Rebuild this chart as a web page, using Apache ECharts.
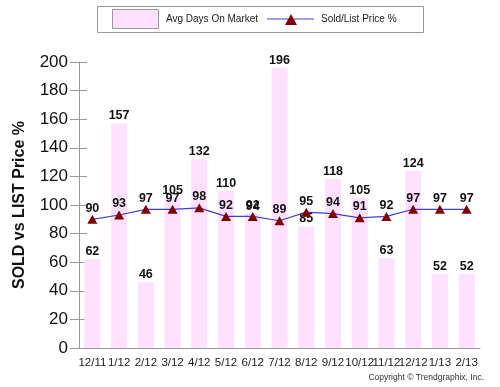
<!DOCTYPE html>
<html><head><meta charset="utf-8">
<script src="https://cdn.jsdelivr.net/npm/echarts@6/dist/echarts.min.js"></script>
<style>html,body{margin:0;padding:0;background:#fff}#c{width:500px;height:387px}</style>
</head><body><div id="c"></div>
<script>
const categories = ['12/11','1/12','2/12','3/12','4/12','5/12','6/12','7/12','8/12','9/12','10/12','11/12','12/12','1/13','2/13'];
const avgDays = [62,157,46,105,132,110,94,196,85,118,105,63,124,52,52];
const soldList = [90,93,97,97,98,92,92,89,95,94,91,92,97,97,97];
const yTicks = [0,20,40,60,80,100,120,140,160,180,200];

const chart = echarts.init(document.getElementById('c'));
const font = 'Liberation Sans, Arial, sans-serif';
const barColor = '#FFE0FF', lineColor = '#4040C4', markColor = '#800000';
chart.setOption({
  animation:false,
  textStyle:{fontFamily:font},
  legend:{show:false},
  grid:{left:79, right:20, top:62, bottom:39},
  xAxis:[{
    type:'category', data:categories, boundaryGap:true,
    axisLine:{lineStyle:{color:'#999'}},
    axisTick:{length:8, lineStyle:{color:'#999'}},
    axisLabel:{fontSize:11.5,color:'#222',margin:9,interval:0,fontFamily:font}
  },{
    type:'category', data:categories, position:'bottom', boundaryGap:true,
    axisLine:{show:false}, axisTick:{inside:true,length:8,lineStyle:{color:'#999'}}, axisLabel:{show:false}
  }],
  yAxis:[{
    type:'value', min:0, max:200, interval:20,
    name:'SOLD vs LIST Price %', nameLocation:'middle', nameGap:51,
    nameTextStyle:{fontSize:16,fontWeight:'bold',color:'#111',fontFamily:font},
    axisLine:{show:true,lineStyle:{color:'#999'}},
    axisTick:{show:true,length:9,lineStyle:{color:'#999'}},
    splitLine:{show:false},
    axisLabel:{fontSize:17,color:'#111',margin:11,fontFamily:font,
      formatter:v=>yTicks.includes(v)?String(v):''}
  },{
    type:'value', min:0, max:200, interval:20, position:'left',
    axisLine:{show:false}, axisTick:{show:true,inside:true,length:8,lineStyle:{color:'#999'}},
    axisLabel:{show:false}, splitLine:{show:false}
  }],
  series:[{
    name:'Avg Days On Market', type:'bar', data:avgDays, barWidth:16,
    itemStyle:{color:barColor},
    label:{show:true,position:'top',distance:1,fontSize:12.5,fontWeight:'bold',color:'#111',fontFamily:font}
  },{
    name:'Sold/List Price %', type:'line', data:soldList,
    lineStyle:{color:lineColor,width:1.2},
    itemStyle:{color:markColor},
    symbol:'triangle', symbolSize:[10,9],
    label:{show:true,position:'top',distance:0,fontSize:12.5,fontWeight:'bold',color:'#111',fontFamily:font}
  }],
  graphic:[
    {type:'rect',shape:{x:97.5,y:6.5,width:326,height:26},style:{fill:'#fff',stroke:'#999',lineWidth:1}},
    {type:'rect',shape:{x:112.5,y:9.5,width:46,height:19},style:{fill:barColor,stroke:'#999',lineWidth:1}},
    {type:'text',x:166,y:19,style:{text:'Avg Days On Market',fontSize:10,fill:'#222',fontFamily:font,verticalAlign:'middle'}},
    {type:'line',shape:{x1:267,y1:19,x2:314,y2:19},style:{stroke:lineColor,lineWidth:1.2}},
    {type:'polygon',shape:{points:[[291,14],[297,25],[285,25]]},style:{fill:markColor}},
    {type:'text',x:321,y:19,style:{text:'Sold/List Price %',fontSize:10,fill:'#222',fontFamily:font,verticalAlign:'middle'}},
    {type:'text',right:16,bottom:5,style:{text:'Copyright © Trendgraphix, Inc.',fontSize:8.5,fill:'#333',fontFamily:font}}
  ]
});
</script></body></html>
